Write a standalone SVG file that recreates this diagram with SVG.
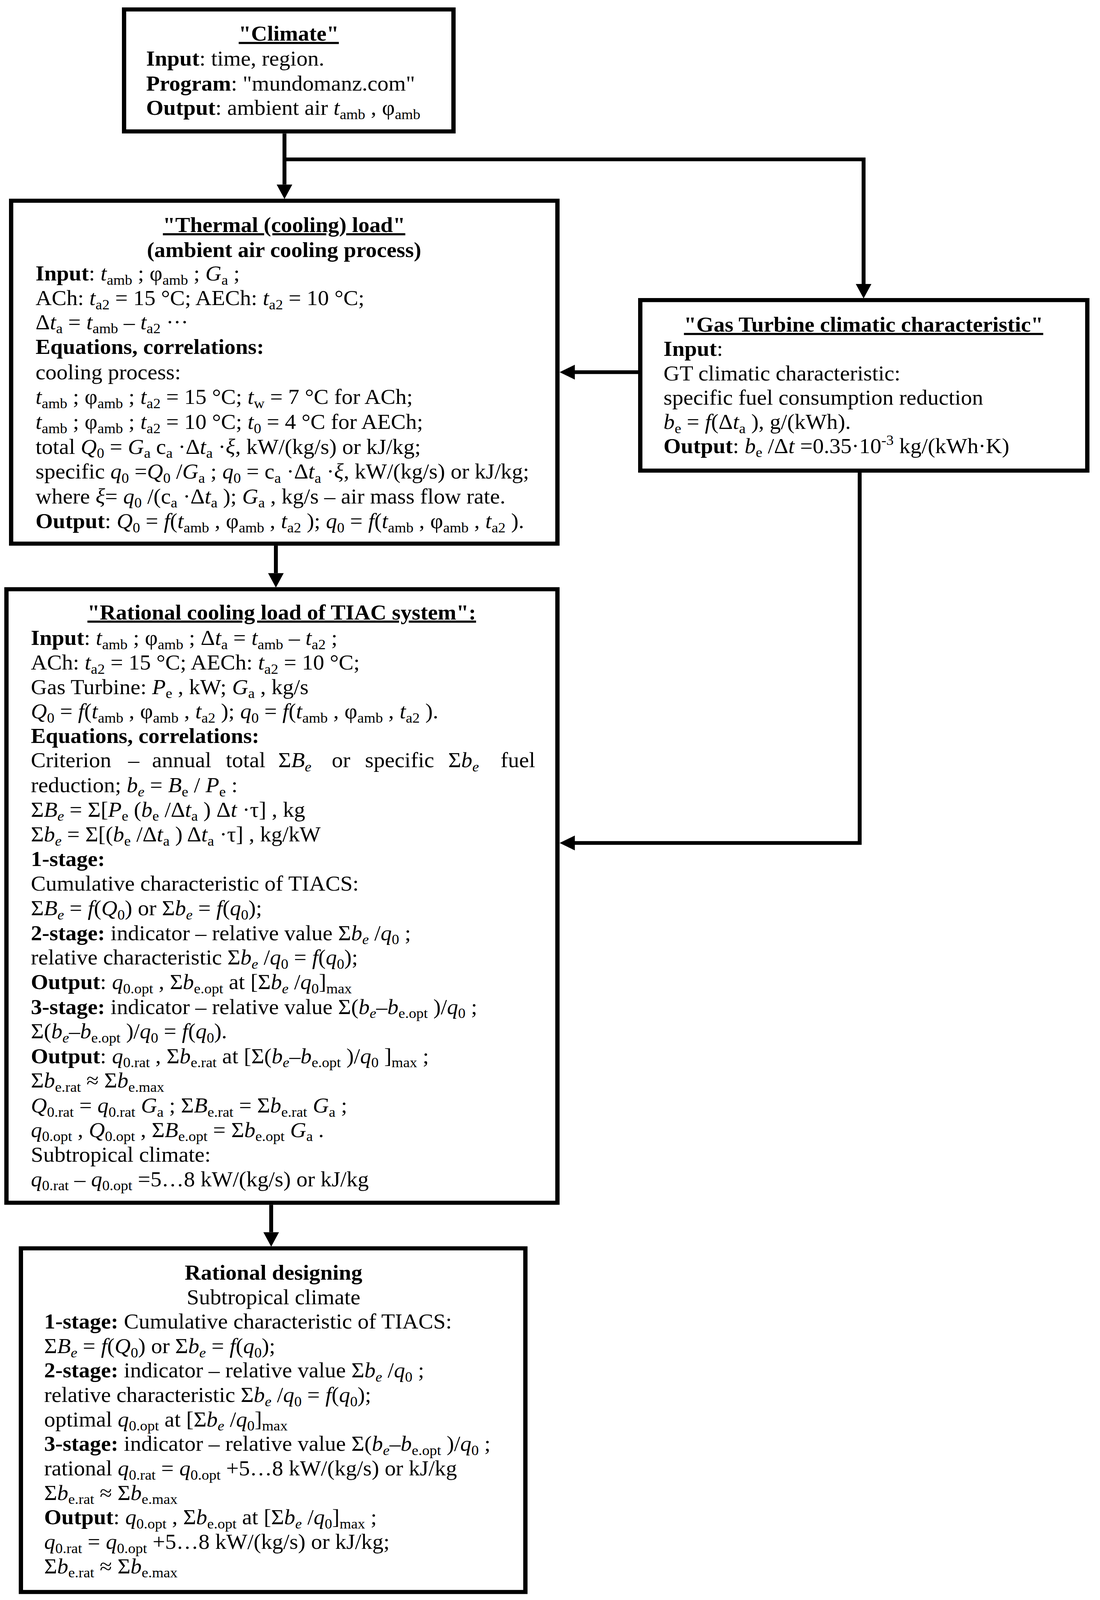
<svg xmlns="http://www.w3.org/2000/svg" width="2815" height="4326" viewBox="0 0 2815 4326">
<defs>
<style>
.tx{font-family:"Liberation Serif","Times New Roman",serif;font-size:57px;fill:#000}
.b{font-weight:bold}
.i{font-style:italic}
.s{font-size:38px;baseline-shift:-11px}
.p{font-size:38px;baseline-shift:22px}
.u{text-decoration:underline}
.c{text-anchor:middle}
.box{fill:#fff;stroke:#000;stroke-width:11}
.con{fill:none;stroke:#000;stroke-width:10;stroke-linejoin:miter}
</style>
<marker id="ah" markerUnits="userSpaceOnUse" markerWidth="42" markerHeight="42" refX="0" refY="20" orient="auto" overflow="visible">
<path d="M0,0 L39,20 L0,40 Z" fill="#000"/>
</marker>
</defs>
<rect width="2815" height="4326" fill="#fff"/>
<g transform="matrix(1 0 0 0.949 0 0)">

<g id="connectors">
<path class="con" d="M728,360 V498" marker-end="url(#ah)"/>
<path class="con" d="M728,430 H2210 V766" marker-end="url(#ah)"/>
<path class="con" d="M1633,1004 H1471" marker-end="url(#ah)"/>
<path class="con" d="M2200,1275 V2274 H1471" marker-end="url(#ah)"/>
<path class="con" d="M706,1472 V1546" marker-end="url(#ah)"/>
<path class="con" d="M694,3250 V3324" marker-end="url(#ah)"/>
</g>

<g id="climate">
<rect class="box" x="317.5" y="25.5" width="843" height="329"/>
<text class="tx b c" x="739" y="110"><tspan class="u">"Climate"</tspan></text>
<text class="tx" x="374" y="177"><tspan class="b">Input</tspan>: time, region.</text>
<text class="tx" x="374" y="244"><tspan class="b">Program</tspan>: "mundomanz.com"</text>
<text class="tx" x="374" y="310"><tspan class="b">Output</tspan>: ambient air <tspan class="i">t</tspan><tspan class="s">amb</tspan> , φ<tspan class="s">amb</tspan></text>
</g>

<g id="thermal-load">
<rect class="box" x="28.5" y="541.5" width="1398" height="925"/>
<text class="tx b c" x="727" y="626"><tspan class="u">"Thermal (cooling) load"</tspan></text>
<text class="tx b c" x="727" y="693">(ambient air cooling process)</text>
<text class="tx" x="91" y="757"><tspan class="b">Input</tspan>: <tspan class="i">t</tspan><tspan class="s">amb</tspan> ; φ<tspan class="s">amb</tspan> ; <tspan class="i">G</tspan><tspan class="s">a</tspan> ;</text>
<text class="tx" x="91" y="823">ACh: <tspan class="i">t</tspan><tspan class="s">a2</tspan> = 15 °C; AECh: <tspan class="i">t</tspan><tspan class="s">a2</tspan> = 10 °C;</text>
<text class="tx" x="91" y="888">Δ<tspan class="i">t</tspan><tspan class="s">a</tspan> = <tspan class="i">t</tspan><tspan class="s">amb</tspan> – <tspan class="i">t</tspan><tspan class="s">a2</tspan> ···</text>
<text class="tx b" x="91" y="955">Equations, correlations:</text>
<text class="tx" x="91" y="1023">cooling process:</text>
<text class="tx" x="91" y="1090"><tspan class="i">t</tspan><tspan class="s">amb</tspan> ; φ<tspan class="s">amb</tspan> ; <tspan class="i">t</tspan><tspan class="s">a2</tspan> = 15 °C; <tspan class="i">t</tspan><tspan class="s">w</tspan> = 7 °C for ACh;</text>
<text class="tx" x="91" y="1157"><tspan class="i">t</tspan><tspan class="s">amb</tspan> ; φ<tspan class="s">amb</tspan> ; <tspan class="i">t</tspan><tspan class="s">a2</tspan> = 10 °C; <tspan class="i">t</tspan><tspan class="s">0</tspan> = 4 °C for AECh;</text>
<text class="tx" x="91" y="1224">total <tspan class="i">Q</tspan><tspan class="s">0</tspan> = <tspan class="i">G</tspan><tspan class="s">a</tspan>  c<tspan class="s">a</tspan> ·Δ<tspan class="i">t</tspan><tspan class="s">a</tspan> ·<tspan class="i">ξ</tspan>, kW/(kg/s) or kJ/kg;</text>
<text class="tx" x="91" y="1291">specific <tspan class="i">q</tspan><tspan class="s">0</tspan> =<tspan class="i">Q</tspan><tspan class="s">0</tspan> /<tspan class="i">G</tspan><tspan class="s">a</tspan> ; <tspan class="i">q</tspan><tspan class="s">0</tspan> = c<tspan class="s">a</tspan> ·Δ<tspan class="i">t</tspan><tspan class="s">a</tspan> ·<tspan class="i">ξ</tspan>, kW/(kg/s) or kJ/kg;</text>
<text class="tx" x="91" y="1358">where <tspan class="i">ξ</tspan>= <tspan class="i">q</tspan><tspan class="s">0</tspan> /(c<tspan class="s">a</tspan> ·Δ<tspan class="i">t</tspan><tspan class="s">a</tspan> ); <tspan class="i">G</tspan><tspan class="s">a</tspan> , kg/s – air mass flow rate.</text>
<text class="tx" x="91" y="1425"><tspan class="b">Output</tspan>: <tspan class="i">Q</tspan><tspan class="s">0</tspan> = <tspan class="i">f</tspan>(<tspan class="i">t</tspan><tspan class="s">amb</tspan> , φ<tspan class="s">amb</tspan> , <tspan class="i">t</tspan><tspan class="s">a2</tspan> ); <tspan class="i">q</tspan><tspan class="s">0</tspan> = <tspan class="i">f</tspan>(<tspan class="i">t</tspan><tspan class="s">amb</tspan> , φ<tspan class="s">amb</tspan> , <tspan class="i">t</tspan><tspan class="s">a2</tspan> ).</text>
</g>

<g id="gas-turbine">
<rect class="box" x="1638.5" y="809.5" width="1144" height="460"/>
<text class="tx b c" x="2210" y="895"><tspan class="u">"Gas Turbine climatic characteristic"</tspan></text>
<text class="tx" x="1698" y="960"><tspan class="b">Input</tspan>:</text>
<text class="tx" x="1698" y="1026">GT climatic characteristic:</text>
<text class="tx" x="1698" y="1092">specific fuel consumption reduction</text>
<text class="tx" x="1698" y="1157"><tspan class="i">b</tspan><tspan class="s">e</tspan> = <tspan class="i">f</tspan>(Δ<tspan class="i">t</tspan><tspan class="s">a</tspan> ), g/(kWh).</text>
<text class="tx" x="1698" y="1222"><tspan class="b">Output</tspan>: <tspan class="i">b</tspan><tspan class="s">e</tspan> /Δ<tspan class="i">t</tspan> =0.35·10<tspan class="p">-3</tspan> kg/(kWh·K)</text>
</g>

<g id="rational-cooling-load">
<rect class="box" x="16.5" y="1589.5" width="1410" height="1655"/>
<text class="tx b c" x="721" y="1671"><tspan class="u">"Rational cooling load of TIAC system":</tspan></text>
<text class="tx" x="79" y="1740"><tspan class="b">Input</tspan>: <tspan class="i">t</tspan><tspan class="s">amb</tspan> ; φ<tspan class="s">amb</tspan> ; Δ<tspan class="i">t</tspan><tspan class="s">a</tspan> = <tspan class="i">t</tspan><tspan class="s">amb</tspan> – <tspan class="i">t</tspan><tspan class="s">a2</tspan> ;</text>
<text class="tx" x="79" y="1806">ACh: <tspan class="i">t</tspan><tspan class="s">a2</tspan> = 15 °C; AECh: <tspan class="i">t</tspan><tspan class="s">a2</tspan> = 10 °C;</text>
<text class="tx" x="79" y="1872">Gas Turbine: <tspan class="i">P</tspan><tspan class="s">e</tspan> , kW; <tspan class="i">G</tspan><tspan class="s">a</tspan> , kg/s</text>
<text class="tx" x="79" y="1938"><tspan class="i">Q</tspan><tspan class="s">0</tspan> = <tspan class="i">f</tspan>(<tspan class="i">t</tspan><tspan class="s">amb</tspan> , φ<tspan class="s">amb</tspan> , <tspan class="i">t</tspan><tspan class="s">a2</tspan> ); <tspan class="i">q</tspan><tspan class="s">0</tspan> = <tspan class="i">f</tspan>(<tspan class="i">t</tspan><tspan class="s">amb</tspan> , φ<tspan class="s">amb</tspan> , <tspan class="i">t</tspan><tspan class="s">a2</tspan> ).</text>
<text class="tx b" x="79" y="2004">Equations, correlations:</text>
<text class="tx" y="2070"><tspan x="79">Criterion</tspan><tspan x="328">–</tspan><tspan x="389">annual</tspan><tspan x="578">total</tspan><tspan x="712">Σ<tspan class="i">B</tspan><tspan class="s i">e</tspan></tspan><tspan x="849">or</tspan><tspan x="934">specific</tspan><tspan x="1147">Σ<tspan class="i">b</tspan><tspan class="s i">e</tspan></tspan><tspan x="1281">fuel</tspan></text>
<text class="tx" x="79" y="2137">reduction; <tspan class="i">b</tspan><tspan class="s i">e</tspan> = <tspan class="i">B</tspan><tspan class="s">e</tspan> / <tspan class="i">P</tspan><tspan class="s">e</tspan> :</text>
<text class="tx" x="79" y="2203">Σ<tspan class="i">B</tspan><tspan class="s i">e</tspan> = Σ[<tspan class="i">P</tspan><tspan class="s">e</tspan> (<tspan class="i">b</tspan><tspan class="s">e</tspan> /Δ<tspan class="i">t</tspan><tspan class="s">a</tspan> ) Δ<tspan class="i">t</tspan> ·τ] , kg</text>
<text class="tx" x="79" y="2270">Σ<tspan class="i">b</tspan><tspan class="s i">e</tspan> = Σ[(<tspan class="i">b</tspan><tspan class="s">e</tspan> /Δ<tspan class="i">t</tspan><tspan class="s">a</tspan> ) Δ<tspan class="i">t</tspan><tspan class="s">a</tspan> ·τ] , kg/kW</text>
<text class="tx b" x="79" y="2336">1-stage:</text>
<text class="tx" x="79" y="2403">Cumulative characteristic of TIACS:</text>
<text class="tx" x="79" y="2469">Σ<tspan class="i">B</tspan><tspan class="s i">e</tspan> = <tspan class="i">f</tspan>(<tspan class="i">Q</tspan><tspan class="s">0</tspan>) or Σ<tspan class="i">b</tspan><tspan class="s i">e</tspan> = <tspan class="i">f</tspan>(<tspan class="i">q</tspan><tspan class="s">0</tspan>);</text>
<text class="tx" x="79" y="2536"><tspan class="b">2-stage:</tspan> indicator – relative value Σ<tspan class="i">b</tspan><tspan class="s i">e</tspan> /<tspan class="i">q</tspan><tspan class="s">0</tspan> ;</text>
<text class="tx" x="79" y="2602">relative characteristic Σ<tspan class="i">b</tspan><tspan class="s i">e</tspan> /<tspan class="i">q</tspan><tspan class="s">0</tspan>  = <tspan class="i">f</tspan>(<tspan class="i">q</tspan><tspan class="s">0</tspan>);</text>
<text class="tx" x="79" y="2668"><tspan class="b">Output</tspan>: <tspan class="i">q</tspan><tspan class="s">0.opt</tspan> , Σ<tspan class="i">b</tspan><tspan class="s">e.opt</tspan>  at [Σ<tspan class="i">b</tspan><tspan class="s i">e</tspan> /<tspan class="i">q</tspan><tspan class="s">0</tspan>]<tspan class="s">max</tspan></text>
<text class="tx" x="79" y="2735"><tspan class="b">3-stage:</tspan> indicator – relative value Σ(<tspan class="i">b</tspan><tspan class="s i">e</tspan>–<tspan class="i">b</tspan><tspan class="s">e.opt</tspan> )/<tspan class="i">q</tspan><tspan class="s">0</tspan> ;</text>
<text class="tx" x="79" y="2801">Σ(<tspan class="i">b</tspan><tspan class="s i">e</tspan>–<tspan class="i">b</tspan><tspan class="s">e.opt</tspan> )/<tspan class="i">q</tspan><tspan class="s">0</tspan> = <tspan class="i">f</tspan>(<tspan class="i">q</tspan><tspan class="s">0</tspan>).</text>
<text class="tx" x="79" y="2868"><tspan class="b">Output</tspan>: <tspan class="i">q</tspan><tspan class="s">0.rat</tspan> , Σ<tspan class="i">b</tspan><tspan class="s">e.rat</tspan>  at [Σ(<tspan class="i">b</tspan><tspan class="s i">e</tspan>–<tspan class="i">b</tspan><tspan class="s">e.opt</tspan> )/<tspan class="i">q</tspan><tspan class="s">0</tspan> ]<tspan class="s">max</tspan> ;</text>
<text class="tx" x="79" y="2934">Σ<tspan class="i">b</tspan><tspan class="s">e.rat</tspan>  ≈ Σ<tspan class="i">b</tspan><tspan class="s">e.max</tspan></text>
<text class="tx" x="79" y="3001"><tspan class="i">Q</tspan><tspan class="s">0.rat</tspan> = <tspan class="i">q</tspan><tspan class="s">0.rat</tspan> <tspan class="i">G</tspan><tspan class="s">a</tspan> ; Σ<tspan class="i">B</tspan><tspan class="s">e.rat</tspan>  = Σ<tspan class="i">b</tspan><tspan class="s">e.rat</tspan> <tspan class="i">G</tspan><tspan class="s">a</tspan> ;</text>
<text class="tx" x="79" y="3067"><tspan class="i">q</tspan><tspan class="s">0.opt</tspan> , <tspan class="i">Q</tspan><tspan class="s">0.opt</tspan> , Σ<tspan class="i">B</tspan><tspan class="s">e.opt</tspan>  = Σ<tspan class="i">b</tspan><tspan class="s">e.opt</tspan> <tspan class="i">G</tspan><tspan class="s">a</tspan> .</text>
<text class="tx" x="79" y="3134">Subtropical climate:</text>
<text class="tx" x="79" y="3200"><tspan class="i">q</tspan><tspan class="s">0.rat</tspan> – <tspan class="i">q</tspan><tspan class="s">0.opt</tspan> =5…8 kW/(kg/s) or kJ/kg</text>
</g>

<g id="rational-designing">
<rect class="box" x="53.5" y="3367.5" width="1291" height="927"/>
<text class="tx b c" x="700" y="3452">Rational designing</text>
<text class="tx c" x="700" y="3518">Subtropical climate</text>
<text class="tx" x="113" y="3584"><tspan class="b">1-stage:</tspan> Cumulative characteristic of TIACS:</text>
<text class="tx" x="113" y="3650">Σ<tspan class="i">B</tspan><tspan class="s i">e</tspan> = <tspan class="i">f</tspan>(<tspan class="i">Q</tspan><tspan class="s">0</tspan>) or Σ<tspan class="i">b</tspan><tspan class="s i">e</tspan> = <tspan class="i">f</tspan>(<tspan class="i">q</tspan><tspan class="s">0</tspan>);</text>
<text class="tx" x="113" y="3716"><tspan class="b">2-stage:</tspan> indicator – relative value Σ<tspan class="i">b</tspan><tspan class="s i">e</tspan> /<tspan class="i">q</tspan><tspan class="s">0</tspan> ;</text>
<text class="tx" x="113" y="3782">relative characteristic Σ<tspan class="i">b</tspan><tspan class="s i">e</tspan> /<tspan class="i">q</tspan><tspan class="s">0</tspan>  = <tspan class="i">f</tspan>(<tspan class="i">q</tspan><tspan class="s">0</tspan>);</text>
<text class="tx" x="113" y="3848">optimal <tspan class="i">q</tspan><tspan class="s">0.opt</tspan>  at [Σ<tspan class="i">b</tspan><tspan class="s i">e</tspan> /<tspan class="i">q</tspan><tspan class="s">0</tspan>]<tspan class="s">max</tspan></text>
<text class="tx" x="113" y="3914"><tspan class="b">3-stage:</tspan> indicator – relative value Σ(<tspan class="i">b</tspan><tspan class="s i">e</tspan>–<tspan class="i">b</tspan><tspan class="s">e.opt</tspan> )/<tspan class="i">q</tspan><tspan class="s">0</tspan> ;</text>
<text class="tx" x="113" y="3980">rational <tspan class="i">q</tspan><tspan class="s">0.rat</tspan> = <tspan class="i">q</tspan><tspan class="s">0.opt</tspan> +5…8 kW/(kg/s) or kJ/kg</text>
<text class="tx" x="113" y="4046">Σ<tspan class="i">b</tspan><tspan class="s">e.rat</tspan>  ≈ Σ<tspan class="i">b</tspan><tspan class="s">e.max</tspan></text>
<text class="tx" x="113" y="4112"><tspan class="b">Output</tspan>: <tspan class="i">q</tspan><tspan class="s">0.opt</tspan> , Σ<tspan class="i">b</tspan><tspan class="s">e.opt</tspan>  at [Σ<tspan class="i">b</tspan><tspan class="s i">e</tspan> /<tspan class="i">q</tspan><tspan class="s">0</tspan>]<tspan class="s">max</tspan> ;</text>
<text class="tx" x="113" y="4178"><tspan class="i">q</tspan><tspan class="s">0.rat</tspan> = <tspan class="i">q</tspan><tspan class="s">0.opt</tspan> +5…8 kW/(kg/s) or kJ/kg;</text>
<text class="tx" x="113" y="4244">Σ<tspan class="i">b</tspan><tspan class="s">e.rat</tspan>  ≈ Σ<tspan class="i">b</tspan><tspan class="s">e.max</tspan></text>
</g>
</g>
</svg>
